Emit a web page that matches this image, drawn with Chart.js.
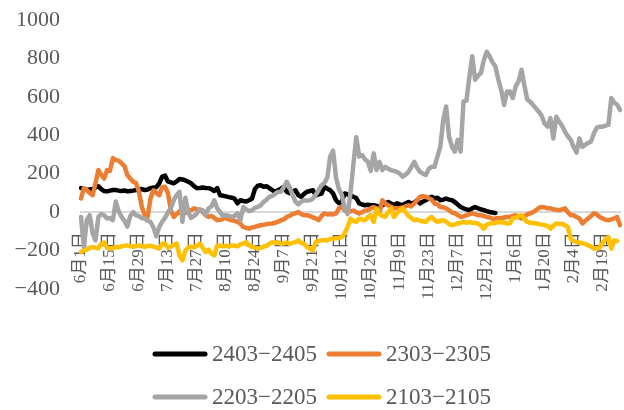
<!DOCTYPE html>
<html><head><meta charset="utf-8">
<script src="https://cdn.jsdelivr.net/npm/chart.js@4.4.0/dist/chart.umd.min.js"></script>
<style>html,body{margin:0;padding:0;background:#fff}#wrap{width:624px;height:410px;position:relative}</style>
</head><body><div id="wrap"><canvas id="c"></canvas></div>
<script>
const tickLabels = ['6月1日','6月15日','6月29日','7月13日','7月27日','8月10日','8月24日','9月7日','9月21日','10月12日','10月26日','11月9日','11月23日','12月7日','12月21日','1月6日','1月20日','2月4日','2月19日'];
const seriesNames = ['2403−2405','2303−2305','2203−2205','2103−2105'];
const seriesColors = ['#000000','#ED7D31','#A5A5A5','#FFC000'];

const s2403 = [125,122,115,118,120,128,135,120,110,108, 112,115,115,112,110,113,108,110,112,115, 118,120,115,118,125,128,130,150,185,190, 160,155,150,160,172,170,165,158,150,135, 125,126,128,126,125,120,110,125,88,85, 82,78,75,70,46,62,58,55,62,70, 120,138,140,132,135,125,115,105,114,122, 132,106,99,108,114,88,80,95,106,110, 114,88,92,97,132,122,114,97,62,46, 55,97,92,88,80,73,46,40,36,38, 36,36,32,27,36,45,53,45,36,46, 40,36,45,53,45,50,62,45,55,62, 73,80,71,75,62,65,71,65,62,53, 40,27,20,15,10,20,27,20,15,10, 5,1,-2,-4];

const s2303 = [71,125,115,100,88,150,219,193,175,219, 215,281,271,268,254,240,193,175,158,151, 106,27,-16,-25,73,114,100,88,130,132, 100,10,-25,-10,5,0,-5,5,10,20, 15,10,0,-15,-25,-20,-30,-42,-40,-35, -30,-38,-42,-45,-51,-60,-77,-82,-86,-80, -77,-72,-68,-66,-62,-60,-59,-55,-50,-42, -38,-25,-20,-10,-6,1,-10,-16,-16,-20, -28,-32,-42,-20,-6,-12,-10,-12,-7,20, 27,10,0,5,8,0,-7,0,8,10, 20,27,15,0,62,45,36,28,20,20, 22,25,30,36,30,45,62,80,83,80, 73,65,45,40,27,25,20,10,-2,-6, -15,-25,-22,-16,-12,-6,-10,-16,-16,-20, -25,-28,-34,-33,-30,-32,-28,-25,-25,-20, -16,-25,-33,-20,-12,-6,0,10,22,27, 25,20,20,15,12,10,15,20,0,-16, -16,-25,-33,-59,-45,-33,-20,-6,-12,-25, -33,-40,-42,-38,-33,-25,-68];

const s2203 = [-25,-182,-42,-16,-110,-147,-25,-10,-16,-33, -30,-42,55,5,-25,-45,-75,-20,0,-16, -20,-32,-33,-45,-51,-80,-125,-77,-50,-30, 0,20,62,88,106,-50,75,0,-30,-20, -6,15,10,-16,20,30,62,20,0,-20, -16,-20,-25,-20,-6,-42,27,15,5,10, 22,27,36,53,65,80,85,95,105,106, 130,158,130,90,55,40,55,62,60,62, 70,90,114,140,151,180,290,320,180,120, 90,19,-10,100,250,390,289,297,275,262, 215,306,219,262,219,236,225,219,215,210, 200,184,195,210,235,262,230,210,200,193, 225,236,236,289,341,480,550,393,341,315, 376,315,576,580,700,811,689,710,724,790, 835,811,780,759,690,637,558,628,628,594, 654,680,741,660,585,575,558,540,523,500, 460,445,489,384,497,471,450,419,395,376, 340,310,384,340,350,360,367,411,440,445, 445,450,454,594,570,560,532];

const s2103 = [-208,-200,-195,-185,-182,-185,-188,-165,-158,-185, -190,-188,-180,-183,-178,-175,-173,-178,-180,-176, -173,-178,-180,-176,-175,-180,-185,-190,-165,-163, -185,-180,-170,-164,-225,-251,-200,-185,-180,-183, -175,-164,-185,-208,-195,-216,-225,-173,-175,-178, -175,-180,-173,-175,-178,-168,-164,-156,-172,-180, -185,-190,-186,-180,-175,-165,-156,-160,-156,-165, -163,-158,-165,-160,-156,-147,-160,-165,-182,-190, -199,-156,-150,-147,-145,-147,-140,-138,-136,-135, -130,-110,-77,-34,-45,-51,-34,-38,-42,-25, -16,-51,19,-10,-20,-25,0,19,-25,-7, 10,19,1,-20,-30,-42,-38,-45,-48,-51, -35,-25,-40,-51,-45,-42,-50,-62,-68,-64, -59,-55,-51,-55,-52,-55,-57,-59,-70,-86, -65,-59,-58,-56,-52,-51,-55,-59,-59,-33, -28,-20,-16,-35,-51,-55,-57,-59,-62,-65, -68,-72,-86,-70,-59,-62,-60,-68,-77,-140, -150,-156,-158,-162,-165,-172,-180,-190,-188,-185, -160,-140,-130,-190,-147,-150];

const seriesValues = [s2403, s2303, s2203, s2103];
const pointCount = s2203.length;
const categories = Array.from({length: pointCount}, (_, i) => (i % 10 === 0 && tickLabels[i / 10]) ? tickLabels[i / 10] : '');

const SERIF = "'Liberation Serif', 'Noto Sans CJK SC', serif";
const TEXT = '#595959';

const gridLegend = {
  id: 'gridLegend',
  afterDraw(chart) {
    const ctx = chart.ctx;
    const cols = [155, 329];
    const rows = [354, 397];
    ctx.save();
    ctx.font = '23px ' + SERIF;
    ctx.textBaseline = 'middle';
    ctx.textAlign = 'left';
    chart.data.datasets.forEach((d, k) => {
      const x = cols[k % 2], y = rows[Math.floor(k / 2)];
      ctx.strokeStyle = d.borderColor;
      ctx.lineWidth = 5;
      ctx.lineCap = 'round';
      ctx.beginPath(); ctx.moveTo(x, y); ctx.lineTo(x + 50, y); ctx.stroke();
      ctx.fillStyle = TEXT;
      ctx.fillText(d.label, x + 57, y + 1);
    });
    ctx.restore();
  }
};

const noPad = s => { s.paddingLeft = 0; s.paddingRight = 0; s.paddingTop = 0; s.paddingBottom = 0; };

new Chart(document.getElementById('c'), {
  type: 'line',
  data: {
    labels: categories,
    datasets: seriesNames.map((name, k) => ({
      label: name,
      data: seriesValues[k],
      borderColor: seriesColors[k],
      backgroundColor: seriesColors[k],
      borderWidth: 4.5,
      borderJoinStyle: 'round',
      borderCapStyle: 'round',
      pointRadius: 0,
      tension: 0,
      fill: false,
      order: 4 - k
    }))
  },
  options: {
    responsive: true,
    maintainAspectRatio: false,
    animation: false,
    layout: {padding: {left: 14, right: 4, top: 20, bottom: 121}},
    plugins: {legend: {display: false}, tooltip: {enabled: false}},
    scales: {
      x: {
        type: 'category',
        position: {y: 0},
        afterFit: noPad,
        grid: {display: false, drawTicks: false},
        border: {display: true, color: '#D9D9D9', width: 2},
        ticks: {autoSkip: false, maxRotation: 90, minRotation: 90, padding: 20, color: TEXT,
          font: {family: SERIF, size: 17}}
      },
      y: {
        min: -400, max: 1000,
        afterFit: s => { noPad(s); s.width = 67; },
        grid: {display: false, drawTicks: false},
        border: {display: false},
        ticks: {stepSize: 200, padding: 21, color: TEXT, font: {family: SERIF, size: 22},
          callback: v => String(v).replace('-', '−')}
      }
    }
  },
  plugins: [gridLegend]
});
</script></body></html>
